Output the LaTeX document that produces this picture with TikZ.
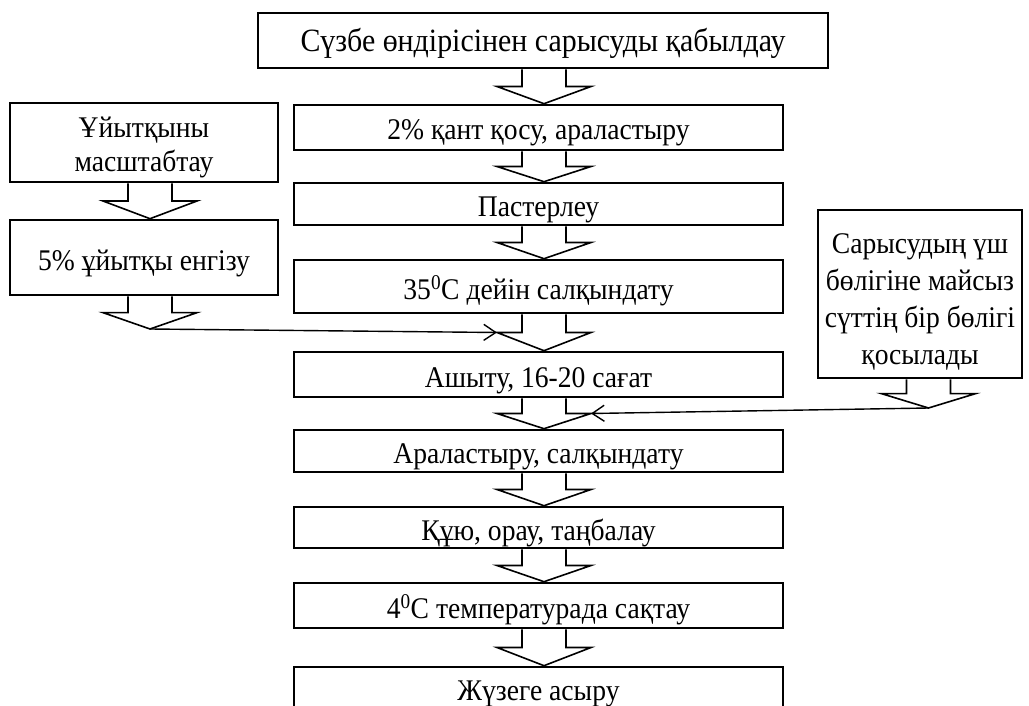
\documentclass[tikz,border=0pt]{standalone}
\usepackage{fontspec}
\setmainfont{Liberation Serif}[FakeStretch=0.92]
\usetikzlibrary{calc,arrows.meta}
\tikzset{
  box/.style={draw, line width=2.6pt, fill=white, inner sep=0pt,
    font=\fontsize{30}{37}\selectfont, align=center},
  oneline/.style={text height=25pt, text depth=0pt},
  blkarrow/.style={draw, line width=1.6pt, fill=white, line join=miter},
  feed/.style={draw, line width=1.4pt,
    -{Straight Barb[length=12pt,width=16pt,line width=1.4pt]}},
}
% block arrow: #1 start node, #2 end point, #3 x centre
\newcommand{\blkarr}[3]{%
  \draw[blkarrow] let \p1=(#1.south), \p2=(#2) in
    ({#3pt-22pt},\y1) -- ({#3pt-22pt},{0.5*\y1+0.5*\y2}) --
    ({#3pt-47pt},{0.5*\y1+0.5*\y2}) -- ({#3pt},\y2) --
    ({#3pt+47pt},{0.5*\y1+0.5*\y2}) -- ({#3pt+22pt},{0.5*\y1+0.5*\y2}) --
    ({#3pt+22pt},\y1);}
\begin{document}
\begin{tikzpicture}[x=1pt,y=-1pt]
\useasboundingbox (0,0) rectangle (1029,706);
\clip (0,0) rectangle (1029,706);
% main column
\node[box, font=\fontsize{32.5}{37}\selectfont, text height=22pt, text depth=0pt,
  minimum width=570pt, minimum height=55pt] (n1) at (543,40.5) {Сүзбе өндірісінен сарысуды қабылдау};
\node[box, oneline, minimum width=489pt, minimum height=45pt] (n2) at (538.5,127.5) {2\% қант қосу, араластыру};
\node[box, oneline, minimum width=489pt, minimum height=42pt] (n3) at (538.5,204) {Пастерлеу};
\node[box, oneline, minimum width=489pt, minimum height=53pt] (n4) at (538.5,286.5) {35\textsuperscript{0}C дейін салқындату};
\node[box, oneline, minimum width=489pt, minimum height=45pt] (n5) at (538.5,374.5) {Ашыту, 16-20 сағат};
\node[box, oneline, minimum width=489pt, minimum height=42pt] (n6) at (538.5,451) {Араластыру, салқындату};
\node[box, oneline, minimum width=489pt, minimum height=41pt] (n7) at (538.5,527.5) {Құю, орау, таңбалау};
\node[box, oneline, minimum width=489pt, minimum height=45pt] (n8) at (538.5,605.5) {4\textsuperscript{0}C температурада сақтау};
\node[box, oneline, minimum width=489pt, minimum height=41pt] (n9) at (538.5,687.5) {Жүзеге асыру};
% left column
\node[box, font=\fontsize{30}{35}\selectfont, text height=59pt, text depth=0pt,
  minimum width=268pt, minimum height=79pt] (l1) at (144,142.5) {Ұйытқыны\\масштабтау};
\node[box, oneline, minimum width=268pt, minimum height=75pt] (l2) at (144,257.5) {5\% ұйытқы енгізу};
% right box
\node[box, text height=140pt, text depth=0pt,
  minimum width=204pt, minimum height=168pt] (r1) at (920,294) {Сарысудың үш\\бөлігіне майсыз\\сүттің бір бөлігі\\қосылады};
% free ends
\coordinate (lt) at (150,329);
\coordinate (rt) at (928.5,408);
\coordinate (lw) at (497,332.5);
\coordinate (rw) at (591,413.5);
% block arrows
\blkarr{n1}{n2.north}{544}
\blkarr{n2}{n3.north}{544}
\blkarr{n3}{n4.north}{544}
\blkarr{n4}{n5.north}{544}
\blkarr{n5}{n6.north}{544}
\blkarr{n6}{n7.north}{544}
\blkarr{n7}{n8.north}{544}
\blkarr{n8}{n9.north}{544}
\blkarr{l1}{l2.north}{150}
\blkarr{l2}{lt}{150}
\blkarr{r1}{rt}{928.5}
% feed lines
\draw[feed] (lt) -- (lw);
\draw[feed] (rt) -- (rw);
\end{tikzpicture}
\end{document}
